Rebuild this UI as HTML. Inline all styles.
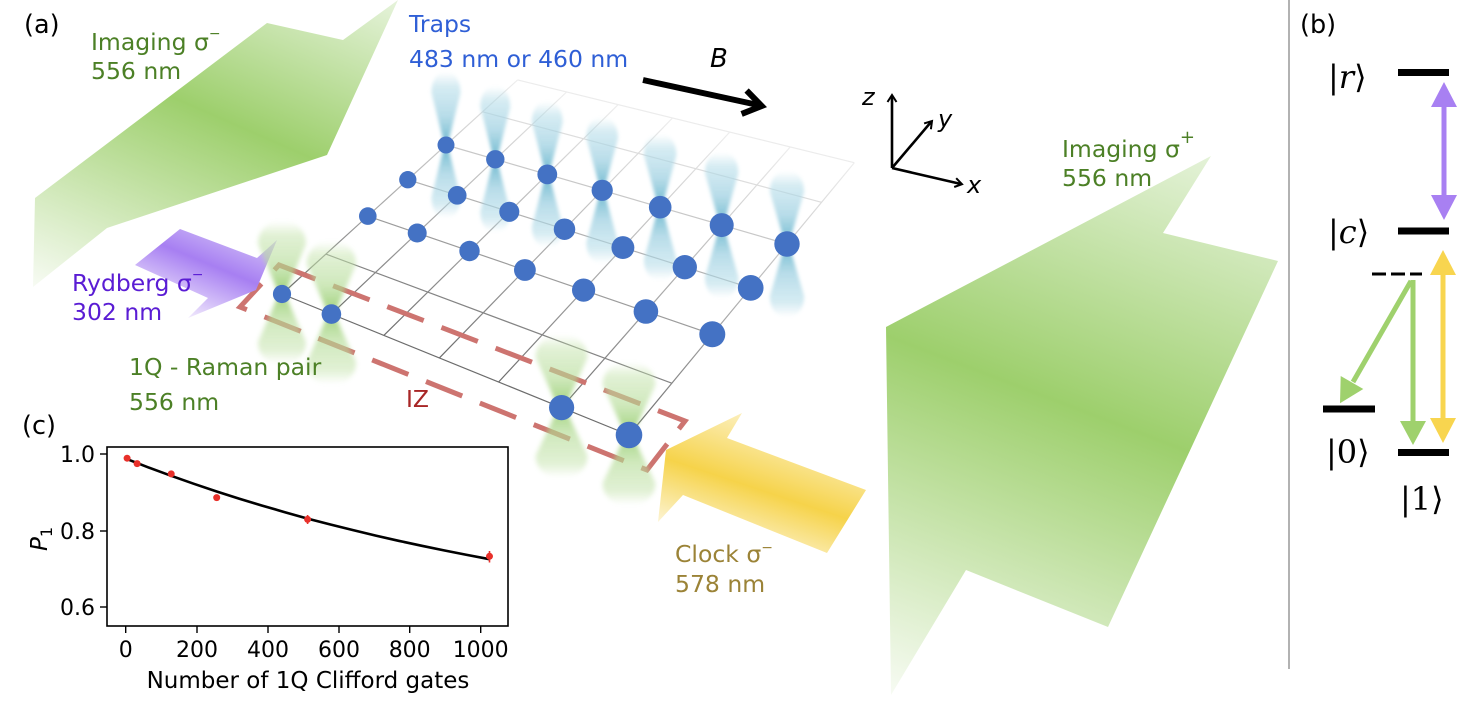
<!DOCTYPE html>
<html><head><meta charset="utf-8">
<style>
html,body{margin:0;padding:0;background:#fff;}
svg{display:block;}
text{font-family:"DejaVu Sans","Liberation Sans",sans-serif;}
text.ket{font-family:"DejaVu Serif","Liberation Serif",serif;}
tspan.br{font-family:"DejaVu Sans","Liberation Sans",sans-serif;}
</style></head><body>
<svg width="1478" height="716" viewBox="0 0 1478 716" xmlns="http://www.w3.org/2000/svg">
<defs>
<linearGradient id="gL" gradientUnits="userSpaceOnUse" x1="302" y1="-42" x2="138" y2="332">
 <stop offset="0" stop-color="#e6f3db"/><stop offset="0.44" stop-color="#9dcf6c"/><stop offset="1" stop-color="#f7fbf3"/>
</linearGradient>
<linearGradient id="gR" gradientUnits="userSpaceOnUse" x1="1142" y1="130" x2="921" y2="706">
 <stop offset="0" stop-color="#e4f2d8"/><stop offset="0.46" stop-color="#9dcf6c"/><stop offset="1" stop-color="#f7fbf3"/>
</linearGradient>
<linearGradient id="gP" gradientUnits="userSpaceOnUse" x1="232" y1="220" x2="190" y2="322">
 <stop offset="0" stop-color="#d8c9f8"/><stop offset="0.45" stop-color="#a77ff2"/><stop offset="1" stop-color="#f5f0fd"/>
</linearGradient>
<linearGradient id="gY" gradientUnits="userSpaceOnUse" x1="782" y1="424" x2="738" y2="556">
 <stop offset="0" stop-color="#fcf0c0"/><stop offset="0.5" stop-color="#f6d34a"/><stop offset="1" stop-color="#fdf8e4"/>
</linearGradient>
<linearGradient id="gCol" x1="1" y1="0" x2="0" y2="1">
 <stop offset="0" stop-color="#eeeeee"/><stop offset="0.33" stop-color="#c8c8c8"/><stop offset="0.67" stop-color="#9c9c9c"/><stop offset="1" stop-color="#6a6a6a"/>
</linearGradient>
<linearGradient id="gT" x1="0" y1="0" x2="0" y2="1">
 <stop offset="0" stop-color="#b2dbe8" stop-opacity="0"/>
 <stop offset="0.1" stop-color="#b2dbe8" stop-opacity="0.6"/>
 <stop offset="0.3" stop-color="#9ccfe0" stop-opacity="0.8"/>
 <stop offset="0.5" stop-color="#5aaec8" stop-opacity="1"/>
 <stop offset="0.7" stop-color="#9ccfe0" stop-opacity="0.8"/>
 <stop offset="0.9" stop-color="#b2dbe8" stop-opacity="0.6"/>
 <stop offset="1" stop-color="#b2dbe8" stop-opacity="0"/>
</linearGradient>
<linearGradient id="gG" x1="0" y1="0" x2="0" y2="1">
 <stop offset="0" stop-color="#c4e3ab" stop-opacity="0"/>
 <stop offset="0.1" stop-color="#c4e3ab" stop-opacity="0.6"/>
 <stop offset="0.3" stop-color="#b4dc96" stop-opacity="0.75"/>
 <stop offset="0.5" stop-color="#8cc860" stop-opacity="1"/>
 <stop offset="0.7" stop-color="#b4dc96" stop-opacity="0.75"/>
 <stop offset="0.9" stop-color="#c4e3ab" stop-opacity="0.6"/>
 <stop offset="1" stop-color="#c4e3ab" stop-opacity="0"/>
</linearGradient>
<filter id="bl" x="-60%" y="-20%" width="220%" height="140%"><feGaussianBlur stdDeviation="1.8"/></filter>
<filter id="bl2" x="-60%" y="-20%" width="220%" height="140%"><feGaussianBlur stdDeviation="2.4"/></filter>
<path id="trap" d="M-1.5,0 L-14.5,-52 C-14.5,-66 -8,-73 0,-73 C8,-73 14.5,-66 14.5,-52 L1.5,0 L14.5,52 C14.5,66 8,73 0,73 C-8,73 -14.5,66 -14.5,52 Z" fill="url(#gT)"/>
<path id="raman" d="M-3,0 L-24,-50 C-24,-64 -14,-73 0,-73 C14,-73 24,-64 24,-50 L3,0 L24,48 C24,62 14,70 0,70 C-14,70 -24,62 -24,48 Z" fill="url(#gG)"/>
</defs>

<!-- imaging beams -->
<polygon points="35,198 267,23 343,40 398,0 327,155 107,228 33,287" fill="url(#gL)"/>
<polygon points="886,327 1211,156 1163,233 1278,261 1108,627 966,570 891,695" fill="url(#gR)"/>

<!-- grid -->
<g stroke-width="1.2" fill="none">
<line x1="517.6" y1="79.9" x2="854.3" y2="162.7" stroke="#ececec"/>
<line x1="482.6" y1="111.8" x2="821.5" y2="202.3" stroke="#dddddd"/>
<line x1="446" y1="145" x2="787" y2="244" stroke="#c8c8c8"/>
<line x1="407.8" y1="179.7" x2="750.7" y2="287.9" stroke="#b2b2b2"/>
<line x1="367.8" y1="216.1" x2="712.3" y2="334.3" stroke="#9c9c9c"/>
<line x1="325.9" y1="254.1" x2="671.8" y2="383.2" stroke="#848484"/>
<line x1="282" y1="294" x2="629" y2="435" stroke="#6c6c6c"/>
<line x1="517.6" y1="79.9" x2="282" y2="294" stroke="url(#gCol)"/>
<line x1="566.6" y1="92" x2="331.4" y2="314.1" stroke="url(#gCol)"/>
<line x1="618.2" y1="104.6" x2="383.8" y2="335.4" stroke="url(#gCol)"/>
<line x1="672.5" y1="118" x2="439.4" y2="357.9" stroke="url(#gCol)"/>
<line x1="729.7" y1="132.1" x2="498.6" y2="382" stroke="url(#gCol)"/>
<line x1="790.3" y1="146.9" x2="561.6" y2="407.6" stroke="url(#gCol)"/>
<line x1="854.3" y1="162.7" x2="629" y2="435" stroke="url(#gCol)"/>
</g>

<!-- IZ dashed box -->
<path d="M279,265 L685,421 L647,470 L240,307 Z" fill="none" stroke="#cd7470" stroke-width="5" stroke-dasharray="39 19"/>

<!-- Rydberg and clock beams -->
<polygon points="135,265 180,229 257,258 277,240 256,290 188,318 208,298" fill="url(#gP)"/>
<polygon points="666,450 742,413 727,438 866,490 827,553 683,495 658,522" fill="url(#gY)"/>

<!-- trap beams -->
<g filter="url(#bl)" opacity="0.9">
<use href="#trap" transform="translate(446,145)"/>
<use href="#trap" transform="translate(495.3,159.3) scale(1.03,1)"/>
<use href="#trap" transform="translate(547.3,174.4) scale(1.06,1)"/>
<use href="#trap" transform="translate(602.2,190.3) scale(1.09,1)"/>
<use href="#trap" transform="translate(660.2,207.2) scale(1.12,1)"/>
<use href="#trap" transform="translate(721.7,225.1) scale(1.15,1)"/>
<use href="#trap" transform="translate(787,244) scale(1.18,1)"/>
</g>
<!-- raman beams -->
<g filter="url(#bl2)" opacity="0.85">
<use href="#raman" transform="translate(282,294)"/>
<use href="#raman" transform="translate(331.4,314.1) scale(1.03,1)"/>
<use href="#raman" transform="translate(561.6,407.6) scale(1.08,1)"/>
<use href="#raman" transform="translate(629,435) scale(1.1,1)"/>
</g>

<!-- atoms -->
<g fill="#4472c4">
<circle cx="446" cy="145" r="8.5"/><circle cx="495.3" cy="159.3" r="9.2"/><circle cx="547.3" cy="174.4" r="9.9"/><circle cx="602.2" cy="190.3" r="10.6"/><circle cx="660.2" cy="207.2" r="11.3"/><circle cx="721.7" cy="225.1" r="12"/><circle cx="787" cy="244" r="12.7"/>
<circle cx="407.8" cy="179.7" r="8.65"/><circle cx="457.2" cy="195.3" r="9.35"/><circle cx="509.3" cy="211.8" r="10.05"/><circle cx="564.5" cy="229.2" r="10.75"/><circle cx="622.9" cy="247.6" r="11.45"/><circle cx="684.8" cy="267.2" r="12.15"/><circle cx="750.7" cy="287.9" r="12.85"/>
<circle cx="367.8" cy="216.1" r="8.8"/><circle cx="417.2" cy="233" r="9.5"/><circle cx="469.5" cy="251" r="10.2"/><circle cx="524.9" cy="270" r="10.9"/><circle cx="583.6" cy="290.1" r="11.6"/><circle cx="645.9" cy="311.5" r="12.3"/><circle cx="712.3" cy="334.3" r="13"/>
<circle cx="282" cy="294" r="9.1"/><circle cx="331.4" cy="314.1" r="9.8"/><circle cx="561.6" cy="407.6" r="12.6"/><circle cx="629" cy="435" r="13.3"/>
</g>

<!-- B arrow and axes -->
<g stroke="#000" fill="none">
<line x1="643" y1="80" x2="758" y2="105" stroke-width="6"/>
<polyline points="746.6,90.5 761.7,106 741.6,113.9" stroke-width="6" stroke-linejoin="miter"/>
<g stroke-width="2.6">
<line x1="892" y1="168" x2="892" y2="96"/>
<line x1="892" y1="168" x2="931" y2="122"/>
<line x1="892" y1="168" x2="961" y2="184"/>
</g>
<g stroke-width="2">
<polyline points="887.5,102 892,95 896.5,102"/>
<polyline points="930.9,129.2 932,121 924.1,123.4"/>
<polyline points="954.2,187 962,184.2 956.2,178.2"/>
</g>
</g>
<text x="710" y="67" font-size="26" font-style="italic">B</text>
<text x="862" y="105" font-size="24" font-style="italic">z</text>
<text x="938" y="127" font-size="24" font-style="italic">y</text>
<text x="967" y="193" font-size="24" font-style="italic">x</text>

<!-- labels -->
<text x="24" y="33" font-size="25.5">(a)</text>
<text x="91" y="50" font-size="23.5" fill="#4c8026">Imaging σ<tspan font-size="14" dy="-12">−</tspan></text>
<text x="91" y="79" font-size="23.5" fill="#4c8026">556 nm</text>
<text x="409" y="32" font-size="23.5" fill="#2f5fd6">Traps</text>
<text x="409" y="67" font-size="23.5" fill="#2f5fd6">483 nm or 460 nm</text>
<text x="1062" y="157" font-size="23.5" fill="#4c8026">Imaging σ<tspan font-size="18" dy="-14">+</tspan></text>
<text x="1062" y="186" font-size="23.5" fill="#4c8026">556 nm</text>
<text x="72" y="291" font-size="23.5" fill="#5a1cd4">Rydberg σ<tspan font-size="14" dy="-12">−</tspan></text>
<text x="72" y="320" font-size="23.5" fill="#5a1cd4">302 nm</text>
<text x="129" y="375" font-size="23.5" fill="#4c8026">1Q - Raman pair</text>
<text x="129" y="410" font-size="23.5" fill="#4c8026">556 nm</text>
<text x="406" y="407" font-size="23.5" fill="#a82626">IZ</text>
<text x="675" y="562" font-size="23.5" fill="#9b8337">Clock σ<tspan font-size="14" dy="-10">−</tspan></text>
<text x="675" y="592" font-size="23.5" fill="#9b8337">578 nm</text>

<!-- panel c -->
<text x="22" y="434" font-size="25.5">(c)</text>
<rect x="107" y="447" width="401" height="179" fill="none" stroke="#000" stroke-width="1.6"/>
<g stroke="#000" stroke-width="1.4">
<line x1="100" y1="454" x2="107" y2="454"/><line x1="100" y1="531" x2="107" y2="531"/><line x1="100" y1="607" x2="107" y2="607"/>
<line x1="125.7" y1="626" x2="125.7" y2="633"/><line x1="197" y1="626" x2="197" y2="633"/><line x1="268" y1="626" x2="268" y2="633"/><line x1="339" y1="626" x2="339" y2="633"/><line x1="409.7" y1="626" x2="409.7" y2="633"/><line x1="480.7" y1="626" x2="480.7" y2="633"/>
</g>
<g font-size="22" text-anchor="end">
<text x="95" y="462">1.0</text><text x="95" y="539">0.8</text><text x="95" y="615">0.6</text>
</g>
<g font-size="22" text-anchor="middle">
<text x="125.7" y="657">0</text><text x="197" y="657">200</text><text x="268" y="657">400</text><text x="339" y="657">600</text><text x="409.7" y="657">800</text><text x="480.7" y="657">1000</text>
</g>
<text x="308" y="688" font-size="23" text-anchor="middle">Number of 1Q Clifford gates</text>
<text transform="translate(47,551) rotate(-90)" font-size="23" font-style="italic">P<tspan font-style="normal" font-size="16" dy="5">1</tspan></text>
<polyline fill="none" stroke="#000" stroke-width="2.6" points="125.7,458.6 148.4,467.4 171.2,475.8 193.9,483.8 216.7,491.5 239.4,498.7 262.1,505.6 284.9,512.2 307.6,518.6 330.4,524.5 353.1,530.1 375.8,535.6 398.6,540.8 421.3,545.7 444,550.4 466.8,554.9 489.5,559.2"/>
<g stroke="#e8302a" stroke-width="1.6">
<line x1="127.1" y1="456" x2="127.1" y2="460.5"/><line x1="137.1" y1="461.4" x2="137.1" y2="465.8"/><line x1="171.2" y1="471.4" x2="171.2" y2="476.4"/><line x1="216.7" y1="494.6" x2="216.7" y2="500.6"/><line x1="307.6" y1="515" x2="307.6" y2="524"/><line x1="489.5" y1="551" x2="489.5" y2="562.5"/>
</g>
<g fill="#e8302a">
<circle cx="127.1" cy="458.2" r="3.5"/><circle cx="137.1" cy="463.6" r="3.5"/><circle cx="171.2" cy="473.9" r="3.5"/><circle cx="216.7" cy="497.6" r="3.5"/><circle cx="307.6" cy="519.4" r="3.5"/><circle cx="489.5" cy="556.3" r="3.5"/>
</g>

<!-- separator -->
<line x1="1289" y1="0" x2="1289" y2="669" stroke="#888" stroke-width="1.3"/>

<!-- panel b -->
<text x="1300" y="33" font-size="25.5">(b)</text>
<g fill="#000">
<rect x="1398" y="69" width="51" height="7"/>
<rect x="1398" y="227.5" width="51" height="7"/>
<rect x="1323" y="405.5" width="52" height="7"/>
<rect x="1398" y="449" width="51" height="7"/>
</g>
<line x1="1372" y1="274" x2="1422" y2="274" stroke="#000" stroke-width="3" stroke-dasharray="14 5"/>
<line x1="1444" y1="100" x2="1444" y2="202" stroke="#a880f2" stroke-width="5"/>
<polygon points="1444,82 1431,107 1457,107" fill="#a880f2"/>
<polygon points="1444,220 1431,195 1457,195" fill="#a880f2"/>
<line x1="1443" y1="268" x2="1443" y2="425" stroke="#f8d54f" stroke-width="5"/>
<polygon points="1443,250 1430,275 1456,275" fill="#f8d54f"/>
<polygon points="1443,443 1430,418 1456,418" fill="#f8d54f"/>
<line x1="1413" y1="280" x2="1413" y2="425" stroke="#9fd16d" stroke-width="5"/>
<polygon points="1413,445 1400,421 1426,421" fill="#9fd16d"/>
<line x1="1411" y1="281" x2="1353" y2="382" stroke="#9fd16d" stroke-width="5"/>
<polygon points="1340,403.3 1340.7,376 1363.3,389" fill="#9fd16d"/>

<text class="ket" x="1328" y="88" font-size="32">|<tspan font-style="italic">r</tspan><tspan class="br">⟩</tspan></text>
<text class="ket" x="1328" y="243" font-size="32">|<tspan font-style="italic">c</tspan><tspan class="br">⟩</tspan></text>
<text class="ket" x="1326" y="463" font-size="32">|0<tspan class="br">⟩</tspan></text>
<text class="ket" x="1400" y="510" font-size="32">|1<tspan class="br">⟩</tspan></text>
</svg>
</body></html>
